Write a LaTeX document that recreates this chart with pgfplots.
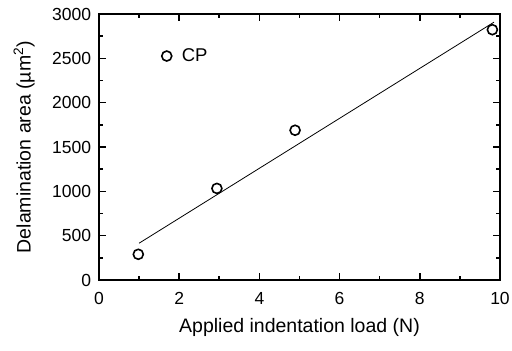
\documentclass[border=0pt]{standalone}
\usepackage{fontspec}
\setmainfont{Liberation Sans}
\usepackage{pgfplots}
\pgfplotsset{compat=1.18}
\begin{document}
\fontsize{17}{20}\selectfont
\begin{tikzpicture}
\begin{axis}[
  name=ax,
  width=401pt, height=266pt, scale only axis,
  xmin=0, xmax=10, ymin=0, ymax=3000,
  xtick={0,2,...,10}, ytick={0,500,...,3000},
  minor xtick={1,3,5,7,9}, minor ytick={250,750,...,2750},
  tick align=inside, tick pos=both,
  major tick length=7pt, minor tick length=4pt,
  every tick/.style={line width=1.6pt, black},
  axis line style={line width=2.2pt},
  /pgf/number format/assume math mode=true,
  scaled ticks=false,
  /pgf/number format/1000 sep={},
  tick label style={font=\fontsize{17.5}{20}\selectfont},
  xticklabel style={yshift=-6.5pt},
  yticklabel style={xshift=-2pt},
  label style={font=\fontsize{19.5}{23}\selectfont},
  xlabel={Applied indentation load (N)},
  ylabel={Delamination area (µm\textsuperscript{2})},
  xlabel style={yshift=-2pt},
  ylabel style={yshift=6pt},
  legend style={draw=none, fill=none, at={(axis cs:1.56,2526)}, anchor=west, font=\fontsize{18.5}{22}\selectfont, legend cell align=left, inner sep=0pt},
]
\addplot[only marks, mark=o, mark size=5pt, mark options={line width=1.6pt}, black] coordinates {
  (0.98,290) (2.94,1033) (4.89,1689) (9.81,2823)
};
\addlegendentry{\hspace{8pt}CP}
\addplot[black, line width=0.8pt, forget plot] coordinates {
  (1.0,415) (9.85,2908)
};
\end{axis}
\pgfresetboundingbox
\path ([shift={(-99pt,-71pt)}]ax.south west) rectangle ([shift={(12pt,14pt)}]ax.north east);
\end{tikzpicture}
\end{document}
